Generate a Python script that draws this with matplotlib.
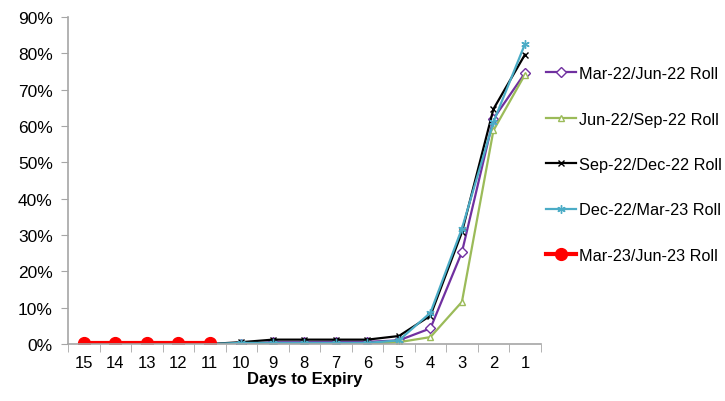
import matplotlib
matplotlib.use("Agg")
import matplotlib.pyplot as plt
from matplotlib.ticker import FixedLocator, PercentFormatter

plt.rcParams['font.family'] = ['Liberation Sans', 'DejaVu Sans']

days = [15, 14, 13, 12, 11, 10, 9, 8, 7, 6, 5, 4, 3, 2, 1]
mar22 = [0, 0, 0, 0, 0, 0.0, 0.5, 0.5, 0.6, 0.6, 1.0, 4.3, 25.3, 62.0, 74.6]
jun22 = [0, 0, 0, 0, 0, 0.0, 0.0, 0.0, 0.0, 0.0, 0.5, 1.9, 11.6, 58.8, 74.2]
sep22 = [0, 0, 0, 0, 0, 0.5, 1.2, 1.2, 1.2, 1.2, 2.2, 7.8, 30.8, 64.7, 79.7]
dec22 = [0, 0, 0, 0, 0, 0.3, 0.3, 0.3, 0.3, 0.3, 1.0, 8.6, 31.8, 61.1, 82.6]
mar23_days = [15, 14, 13, 12, 11]
mar23 = [0.3, 0.3, 0.3, 0.3, 0.3]

labels = ["Mar-22/Jun-22 Roll", "Jun-22/Sep-22 Roll", "Sep-22/Dec-22 Roll",
          "Dec-22/Mar-23 Roll", "Mar-23/Jun-23 Roll"]

fig = plt.figure(figsize=(7.25, 4.02), dpi=100)
ax = fig.add_axes([0.0938, 0.1418, 0.652, 0.813])

xi = list(range(len(days)))
pos = {d: i for i, d in enumerate(days)}

ax.plot(xi, mar22, color='#7030A0', lw=1.6, marker='D', ms=5, mfc='white',
        mec='#7030A0', mew=1, label=labels[0])
ax.plot(xi, jun22, color='#9BBB59', lw=1.6, marker='^', ms=5, mfc='white',
        mec='#9BBB59', mew=1, label=labels[1])
ax.plot(xi, sep22, color='black', lw=1.6, marker='x', ms=5, mew=1, label=labels[2])
ax.plot(xi, dec22, color='#4BACC6', lw=1.6, marker=(6, 2, 0), ms=6, mew=1,
        label=labels[3])
ax.plot([pos[d] for d in mar23_days], mar23, color='#FF0000', lw=3, marker='o',
        ms=8.5, label=labels[4])

ax.set_xlim(-0.5, len(days) - 0.5)
ax.set_ylim(0, 90)
ax.yaxis.set_major_locator(FixedLocator(range(0, 91, 10)))
ax.yaxis.set_major_formatter(PercentFormatter(decimals=0))

ax.set_xticks(xi)
ax.set_xticklabels([str(d) for d in days])
ax.set_xticks([i - 0.5 for i in range(len(days) + 1)], minor=True)
ax.tick_params(axis='x', which='major', length=0, pad=8, labelsize=12)
ax.tick_params(axis='x', which='minor', length=6, color='#A6A6A6', direction='out')
ax.tick_params(axis='y', length=5, color='#A6A6A6', labelsize=12.5, pad=6)

for s in ['top', 'right']:
    ax.spines[s].set_visible(False)
for s in ['left', 'bottom']:
    ax.spines[s].set_color('#A6A6A6')
    ax.spines[s].set_linewidth(1.2)

ax.set_xlabel("Days to Expiry", fontsize=12, fontweight='bold', labelpad=1)

ax.legend(loc='upper left', bbox_to_anchor=(1.0, 0.865), frameon=False,
          fontsize=11.7, handlelength=1.85, handletextpad=0.2, labelspacing=1.87,
          borderaxespad=0.0, borderpad=0.3)

fig.savefig("out.png", dpi=100)
